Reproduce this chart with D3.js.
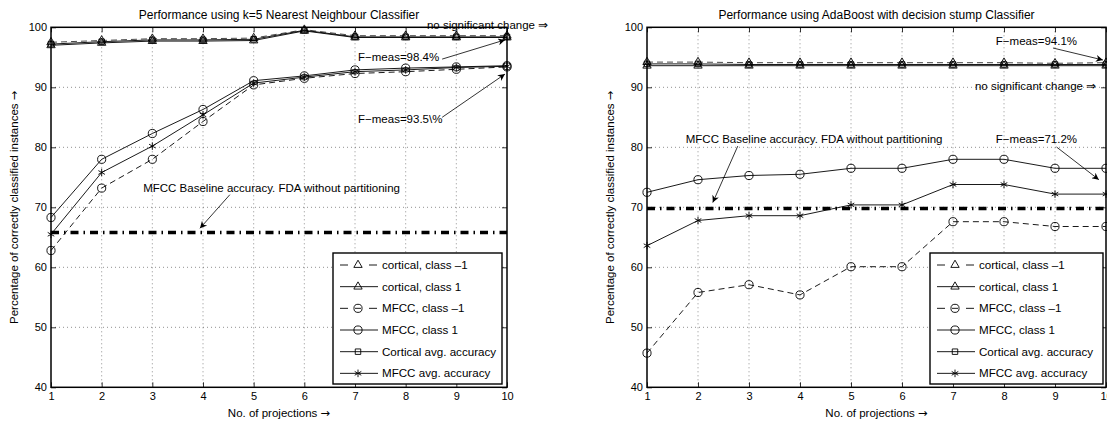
<!DOCTYPE html>
<html>
<head>
<meta charset="utf-8">
<script src="https://cdn.jsdelivr.net/npm/d3@7"></script>
<style>
  body { margin: 0; background: #fff; }
  svg { display: block; }
  text { font-family: "Liberation Sans", Arial, sans-serif; fill: #000; }
  .tick text { font-size: 11px; }
  .tick line { stroke: #000; stroke-width: 0.8; }
  .domain { stroke: none; }
  .arr { font-family: "DejaVu Sans", sans-serif; }
</style>
</head>
<body>
<svg id="vis" width="1107" height="422"></svg>
<script>
// number of projections on x
var projections = [1, 2, 3, 4, 5, 6, 7, 8, 9, 10];
var xTicks = [1, 2, 3, 4, 5, 6, 7, 8, 9, 10];
var yTicks = [40, 50, 60, 70, 80, 90, 100];

var seriesNames = [
  "cortical, class \u20131",
  "cortical, class 1",
  "MFCC, class \u20131",
  "MFCC, class 1",
  "Cortical avg. accuracy",
  "MFCC avg. accuracy"
];

// k=5 nearest neighbour
var knnCortNeg = [97.5, 97.8, 98.1, 98.1, 98.2, 99.6, 98.6, 98.6, 98.6, 98.6];
var knnCortPos = [97.0, 97.4, 97.7, 97.7, 97.8, 99.4, 98.3, 98.3, 98.3, 98.3];
var knnCortAvg = [97.2, 97.6, 97.9, 97.9, 98.0, 99.5, 98.4, 98.4, 98.4, 98.4];
var knnMfccNeg = [62.8, 73.2, 78.0, 84.3, 90.4, 91.5, 92.3, 92.6, 93.0, 93.4];
var knnMfccPos = [68.3, 78.0, 82.3, 86.3, 91.1, 91.9, 92.9, 93.2, 93.4, 93.6];
var knnMfccAvg = [65.5, 75.8, 80.2, 85.4, 90.7, 91.7, 92.6, 92.9, 93.3, 93.5];
var knnBaseline = 65.8;

// adaboost with decision stump
var adaCortNeg = [94.2, 94.2, 94.1, 94.1, 94.1, 94.1, 94.1, 94.1, 94.0, 94.1];
var adaCortPos = [93.6, 93.6, 93.6, 93.6, 93.6, 93.6, 93.6, 93.6, 93.6, 93.6];
var adaCortAvg = [93.9, 93.9, 93.8, 93.8, 93.8, 93.8, 93.8, 93.8, 93.8, 93.8];
var adaMfccNeg = [45.7, 55.8, 57.1, 55.4, 60.1, 60.1, 67.6, 67.6, 66.8, 66.8];
var adaMfccPos = [72.5, 74.6, 75.3, 75.5, 76.5, 76.5, 78.0, 78.0, 76.5, 76.5];
var adaMfccAvg = [63.6, 67.8, 68.6, 68.6, 70.4, 70.4, 73.8, 73.8, 72.2, 72.2];
var adaBaseline = 69.8;

// annotations in data coords: text position, arrow from, arrow to
var knnNotes = [
  { text: "no significant change \u21d2", at: [8.42, 99.7] },
  { text: "F\u2212meas=98.4%", at: [7.06, 94.4], from: [8.72, 94.7], to: [9.96, 97.9] },
  { text: "F\u2212meas=93.5\\%", at: [7.06, 84.05], from: [8.72, 85.0], to: [9.96, 92.2] },
  { text: "MFCC Baseline accuracy. FDA without partitioning", at: [2.82, 72.55], from: [4.53, 72.1], to: [3.94, 66.5] }
];
var adaNotes = [
  { text: "MFCC Baseline accuracy. FDA without partitioning", at: [1.76, 80.7], from: [2.78, 80.2], to: [2.29, 70.8] },
  { text: "F\u2212meas=71.2%", at: [7.84, 80.7], from: [9.03, 80.05], to: [9.86, 74.6] },
  { text: "F\u2212meas=94.1%", at: [7.84, 96.97], from: [8.96, 96.55], to: [9.94, 94.55] },
  { text: "no significant change \u21d2", at: [7.43, 89.55] }
];

var svg = d3.select("#vis");

svg.append("defs")
  .append("marker")
  .attr("id", "arrow")
  .attr("viewBox", "0 0 10 10")
  .attr("refX", 10)
  .attr("refY", 5)
  .attr("markerWidth", 10)
  .attr("markerHeight", 7)
  .attr("markerUnits", "userSpaceOnUse")
  .attr("orient", "auto")
  .append("path")
  .attr("d", "M0,0L10,5L0,10L3,5Z")
  .attr("fill", "#000");

var styles = [
  { dash: "6,4", color: "#333", symbol: d3.symbolTriangle, size: 30 },
  { dash: null, color: "#000", symbol: d3.symbolTriangle, size: 30 },
  { dash: "6,4", color: "#000", symbol: d3.symbolCircle, size: 52 },
  { dash: null, color: "#000", symbol: d3.symbolCircle, size: 52 },
  { dash: null, color: "#000", symbol: d3.symbolSquare, size: 30 },
  { dash: null, color: "#000", symbol: d3.symbolAsterisk, size: 40 }
];

function labelWithArrow(sel, str) {
  sel.append("tspan").text(str);
  sel.append("tspan").attr("class", "arr").text("\u2192");
}

function drawPanel(opt) {
  var left = opt.left, right = opt.right, top = 27.3, bottom = 387.3;
  var x = d3.scaleLinear().domain([1, 10]).range([left, right]);
  var y = d3.scaleLinear().domain([40, 100]).range([bottom, top]);
  var g = svg.append("g");

  // grid
  g.selectAll(".gx")
    .data(xTicks.slice(1, -1))
    .enter()
    .append("line")
    .attr("x1", d => x(d)).attr("x2", d => x(d))
    .attr("y1", top).attr("y2", bottom)
    .style("stroke", "#444").style("stroke-width", 0.6)
    .style("stroke-dasharray", "1,3");
  g.selectAll(".gy")
    .data(yTicks.slice(1, -1))
    .enter()
    .append("line")
    .attr("x1", left).attr("x2", right)
    .attr("y1", d => y(d)).attr("y2", d => y(d))
    .style("stroke", "#444").style("stroke-width", 0.6)
    .style("stroke-dasharray", "1,3");

  // axes (ticks inward)
  g.append("g")
    .attr("transform", `translate(${left},0)`)
    .call(d3.axisLeft(y).tickValues(yTicks).tickSize(-5).tickSizeOuter(0).tickPadding(4));
  g.append("g")
    .attr("transform", `translate(${right},0)`)
    .call(d3.axisRight(y).tickValues(yTicks).tickSize(-5).tickSizeOuter(0).tickFormat(""));
  g.append("g")
    .attr("transform", `translate(0,${bottom})`)
    .call(d3.axisBottom(x).tickValues(xTicks).tickSize(-5).tickSizeOuter(0).tickPadding(5));
  g.append("g")
    .attr("transform", `translate(0,${top})`)
    .call(d3.axisTop(x).tickValues(xTicks).tickSize(-5).tickSizeOuter(0).tickFormat(""));

  g.append("rect")
    .attr("x", left).attr("y", top)
    .attr("width", right - left).attr("height", bottom - top)
    .style("fill", "none").style("stroke", "#000").style("stroke-width", 1.5);

  // baseline
  g.append("line")
    .attr("x1", x(1)).attr("x2", x(10))
    .attr("y1", y(opt.baseline)).attr("y2", y(opt.baseline))
    .style("stroke", "#000").style("stroke-width", 3.5)
    .style("stroke-dasharray", "8,5,1.5,5");

  var line = d3.line().x((d, i) => x(projections[i])).y(d => y(d));

  opt.series.forEach(function(vals, k) {
    var st = styles[k];
    g.append("path")
      .attr("d", line(vals))
      .style("fill", "none")
      .style("stroke", st.color)
      .style("stroke-width", 0.9)
      .style("stroke-dasharray", st.dash);
    g.selectAll(".m" + k)
      .data(vals)
      .enter()
      .append("path")
      .attr("transform", (d, i) => `translate(${x(projections[i])},${y(d)})`)
      .attr("d", d3.symbol().type(st.symbol).size(st.size))
      .style("fill", "none")
      .style("stroke", "#000")
      .style("stroke-width", 0.9);
  });

  // annotations
  opt.notes.forEach(function(n) {
    g.append("text")
      .attr("x", x(n.at[0])).attr("y", y(n.at[1]))
      .style("font-size", "11.5px")
      .text(n.text);
    if (n.from) {
      g.append("line")
        .attr("x1", x(n.from[0])).attr("y1", y(n.from[1]))
        .attr("x2", x(n.to[0])).attr("y2", y(n.to[1]))
        .style("stroke", "#000").style("stroke-width", 0.8)
        .attr("marker-end", "url(#arrow)");
    }
  });

  // legend
  var lx = opt.legendLeft, ly = 253, lw = opt.legendWidth, lh = 131;
  var leg = g.append("g").attr("transform", `translate(${lx},${ly})`);
  leg.append("rect")
    .attr("width", lw).attr("height", lh)
    .style("fill", "#fff").style("stroke", "#000").style("stroke-width", 1.4);
  seriesNames.forEach(function(name, k) {
    var st = styles[k];
    var ry = 12 + k * 21.67;
    var segs = st.dash ? [[7, 15], [36, 44]] : [[7, 45]];
    if (st.dash && st.symbol === d3.symbolCircle) segs.push([22, 28]);
    segs.forEach(function(s) {
      leg.append("line")
        .attr("x1", s[0]).attr("x2", s[1]).attr("y1", ry).attr("y2", ry)
        .style("stroke", "#000").style("stroke-width", 0.9);
    });
    leg.append("path")
      .attr("transform", `translate(25,${ry})`)
      .attr("d", d3.symbol().type(st.symbol).size(st.size))
      .style("fill", "none").style("stroke", "#000").style("stroke-width", 0.9);
    leg.append("text")
      .attr("x", 49).attr("y", ry).attr("dy", "0.35em")
      .style("font-size", "11.6px")
      .text(name);
  });

  // titles and labels
  svg.append("text")
    .attr("x", (left + right) / 2).attr("y", 18.5)
    .attr("text-anchor", "middle")
    .style("font-size", "12px")
    .text(opt.title);
  svg.append("text")
    .attr("x", (left + right) / 2).attr("y", 417)
    .attr("text-anchor", "middle")
    .style("font-size", "11.5px")
    .call(labelWithArrow, "No. of projections ");
  svg.append("text")
    .attr("transform", `translate(${left - 37},${(top + bottom) / 2}) rotate(-90)`)
    .attr("text-anchor", "middle")
    .attr("dy", "0.35em")
    .style("font-size", "11.5px")
    .call(labelWithArrow, "Percentage of correctly classified instances ");
}

drawPanel({
  left: 51, right: 507,
  title: "Performance using k=5 Nearest Neighbour Classifier",
  series: [knnCortNeg, knnCortPos, knnMfccNeg, knnMfccPos, knnCortAvg, knnMfccAvg],
  baseline: knnBaseline,
  notes: knnNotes,
  legendLeft: 333, legendWidth: 169
});

drawPanel({
  left: 647, right: 1106,
  title: "Performance using AdaBoost with decision stump Classifier",
  series: [adaCortNeg, adaCortPos, adaMfccNeg, adaMfccPos, adaCortAvg, adaMfccAvg],
  baseline: adaBaseline,
  notes: adaNotes,
  legendLeft: 930, legendWidth: 173
});
</script>
</body>
</html>
